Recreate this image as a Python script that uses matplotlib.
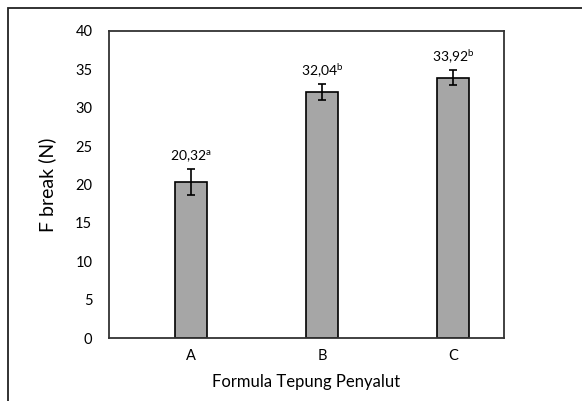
import numpy as np
import matplotlib.pyplot as plt
from matplotlib.patches import Rectangle

plt.rcParams['font.family'] = ['Lato', 'DejaVu Sans']
plt.rcParams['mathtext.fontset'] = 'custom'
plt.rcParams['mathtext.rm'] = 'Lato'

categories = ['A', 'B', 'C']
values = [20.32, 32.04, 33.92]
errors = [1.7, 1.0, 1.0]
labels = ['20,32', '32,04', '33,92']
notation = ['a', 'b', 'b']

fig = plt.figure(figsize=(5.82, 4.01), dpi=100)
ax = fig.add_axes([109/582, 1-338/401, (504-109)/582, (338-31)/401])

x = np.arange(len(categories))
ax.bar(x, values, width=0.24, color='#a6a6a6', edgecolor='black', linewidth=1.2, zorder=2)
ax.errorbar(x, values, yerr=errors, fmt='none', ecolor='black', elinewidth=1.2, capsize=3, capthick=1.2, zorder=3)
for i in range(len(x)):
    ax.annotate(labels[i] + '$^{\\mathrm{' + notation[i] + '}}$', (x[i], values[i] + errors[i]),
                xytext=(0, 3), textcoords='offset points', ha='center', va='bottom', fontsize=10)

ax.set_xlim(-0.626, 2.39)
ax.set_ylim(0, 40)
ax.set_yticks(np.arange(0, 41, 5))
ax.set_xticks(x)
ax.set_xticklabels(categories)
ax.tick_params(length=0, labelsize=10.5, pad=8)
ax.tick_params(axis='y', pad=12)
for s in ax.spines.values():
    s.set_linewidth(1.3)
    s.set_color('#333333')
ax.set_xlabel('Formula Tepung Penyalut', fontsize=12, labelpad=8)
ax.set_ylabel('F break (N)', fontsize=14, labelpad=14)

fig.patches.append(Rectangle((8/582, -0.1), 1.1, 1 - 8/401 + 0.1, transform=fig.transFigure,
                             fill=False, edgecolor='#222222', linewidth=1.3))

fig.savefig('out.png', dpi=100)
